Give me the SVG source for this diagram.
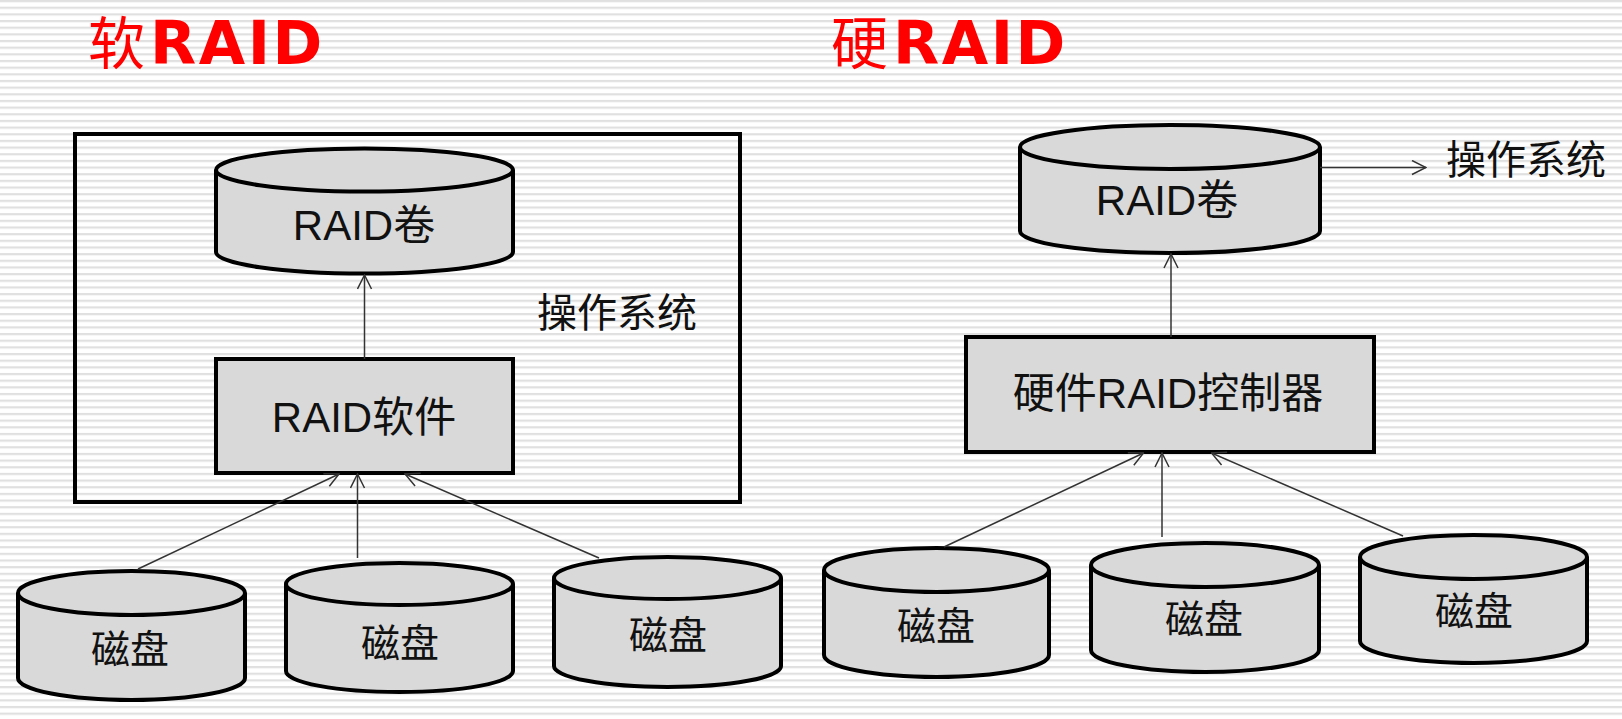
<svg xmlns="http://www.w3.org/2000/svg" width="1622" height="719" viewBox="0 0 1622 719">
<defs>
<pattern id="stripes" patternUnits="userSpaceOnUse" width="20" height="6.66">
<rect x="0" y="0" width="20" height="6.66" fill="#ffffff"/>
<rect x="0" y="0" width="20" height="2.2" fill="#e0e0e0"/>
</pattern>
<marker id="arr" viewBox="0 0 16 16" refX="15" refY="8" markerWidth="16" markerHeight="16" markerUnits="userSpaceOnUse" orient="auto">
<path d="M1,1 L15,8 L1,15" fill="none" stroke="#333" stroke-width="1.5"/>
</marker>
<style>
.shape{fill:#d9d9d9;stroke:#000;stroke-width:4}
.frame{fill:none;stroke:#000;stroke-width:4}
.lbl{font-family:"Liberation Sans","Noto Sans CJK SC",sans-serif;font-size:42px;fill:#111;text-anchor:middle}
.os{font-family:"Noto Sans CJK SC",sans-serif;font-size:40px;fill:#111}
.disk{font-family:"Noto Sans CJK SC",sans-serif;font-size:39px;fill:#111;text-anchor:middle}
.title{font-family:"DejaVu Sans","Noto Sans CJK SC",sans-serif;font-size:60px;fill:#ff0000}
.tcn{font-family:"Noto Sans CJK SC",sans-serif;font-size:57px;font-weight:normal}
.tl{font-weight:bold;letter-spacing:2.5px}
.conn{fill:none;stroke:#333;stroke-width:1.5;marker-end:url(#arr)}
</style>
</defs>
<rect x="0" y="0" width="1622" height="719" fill="url(#stripes)"/>

<g id="title-soft">
<text class="title" x="88" y="64"><tspan class="tcn">软</tspan><tspan class="tl" x="150">RAID</tspan></text>
</g>
<g id="title-hard">
<text class="title" x="831" y="64"><tspan class="tcn">硬</tspan><tspan class="tl" x="893">RAID</tspan></text>
</g>

<g id="os-frame">
<rect class="frame" x="75" y="134" width="665" height="368"/>
<text class="os" x="537" y="327">操作系统</text>
</g>

<g id="raid-volume-soft">
<path class="shape" d="M216,170 V252 A148.5,21.5 0 0 0 513,252 V170"/>
<ellipse class="shape" cx="364.5" cy="170" rx="148.5" ry="21.5"/>
<text class="lbl" x="364" y="240">RAID卷</text>
</g>

<g id="raid-software">
<rect class="shape" x="216" y="359" width="297" height="114"/>
<text class="lbl" x="364" y="432">RAID软件</text>
</g>

<g id="disk-l1">
<path class="shape" d="M18,593 V678 A113.5,22 0 0 0 245,678 V593"/>
<ellipse class="shape" cx="131.5" cy="593" rx="113.5" ry="22"/>
<text class="disk" x="130" y="663">磁盘</text>
</g>
<g id="disk-l2">
<path class="shape" d="M286,584 V671 A113.5,21 0 0 0 513,671 V584"/>
<ellipse class="shape" cx="399.5" cy="584" rx="113.5" ry="21"/>
<text class="disk" x="400" y="657">磁盘</text>
</g>
<g id="disk-l3">
<path class="shape" d="M554,578 V666 A113.5,21 0 0 0 781,666 V578"/>
<ellipse class="shape" cx="667.5" cy="578" rx="113.5" ry="21"/>
<text class="disk" x="668" y="649">磁盘</text>
</g>

<g id="raid-volume-hard">
<path class="shape" d="M1020,147 V231 A150,22 0 0 0 1320,231 V147"/>
<ellipse class="shape" cx="1170" cy="147" rx="150" ry="22"/>
<text class="lbl" x="1167" y="215">RAID卷</text>
</g>
<text id="os-label-hard" class="os" x="1446" y="174">操作系统</text>

<g id="raid-controller">
<rect class="shape" x="966" y="337" width="408" height="115"/>
<text class="lbl" x="1168" y="408">硬件RAID控制器</text>
</g>

<g id="disk-r1">
<path class="shape" d="M824,570 V655 A112.5,22 0 0 0 1049,655 V570"/>
<ellipse class="shape" cx="936.5" cy="570" rx="112.5" ry="22"/>
<text class="disk" x="936" y="640">磁盘</text>
</g>
<g id="disk-r2">
<path class="shape" d="M1091,565 V650 A114,22 0 0 0 1319,650 V565"/>
<ellipse class="shape" cx="1205" cy="565" rx="114" ry="22"/>
<text class="disk" x="1204" y="633">磁盘</text>
</g>
<g id="disk-r3">
<path class="shape" d="M1360,557 V641 A113.5,22 0 0 0 1587,641 V557"/>
<ellipse class="shape" cx="1473.5" cy="557" rx="113.5" ry="22"/>
<text class="disk" x="1474" y="625">磁盘</text>
</g>

<g id="connectors">
<line class="conn" x1="364.5" y1="359" x2="364.5" y2="275"/>
<line class="conn" x1="138" y1="569" x2="339" y2="474"/>
<line class="conn" x1="357.5" y1="558" x2="357.5" y2="474"/>
<line class="conn" x1="599" y1="558" x2="405" y2="474"/>
<line class="conn" x1="1171" y1="337" x2="1171" y2="254"/>
<line class="conn" x1="1320" y1="167.5" x2="1426" y2="167.5"/>
<line class="conn" x1="944" y1="547" x2="1143.5" y2="453"/>
<line class="conn" x1="1162" y1="537" x2="1162" y2="453"/>
<line class="conn" x1="1403" y1="536" x2="1211.5" y2="453"/>
</g>
</svg>
